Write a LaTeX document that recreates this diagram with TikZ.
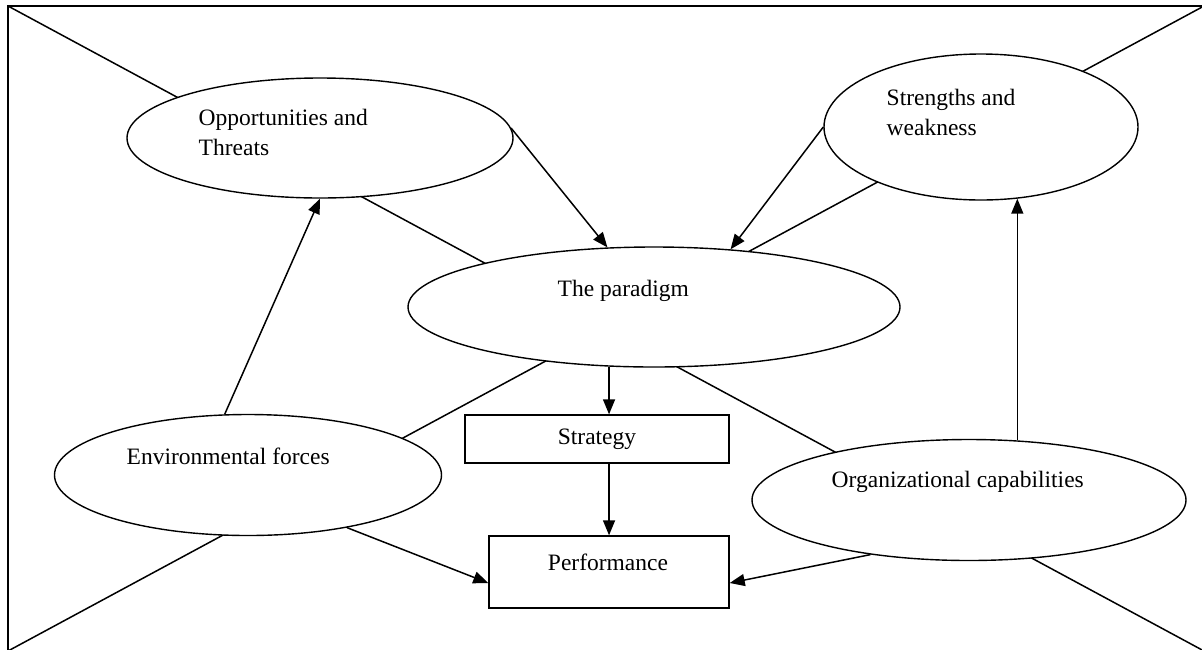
\documentclass[tikz,border=0pt]{standalone}
\usepackage{fontspec}
\setmainfont{Liberation Serif}
\usetikzlibrary{shapes.geometric,arrows.meta,calc}
\begin{document}
\begin{tikzpicture}[x=1pt,y=-1pt,
  line width=1.4pt,
  ell/.style={ellipse, draw, fill=white, inner sep=0pt},
  box/.style={rectangle, draw, fill=white, inner sep=0pt, font=\fontsize{23.5}{30}\selectfont},
  lbl/.style={inner sep=0pt, font=\fontsize{23.5}{30}\selectfont},
  arr/.style={-{Triangle[length=15pt,width=12pt]}, line width=1.5pt},
  diag/.style={line width=1.5pt}]
\useasboundingbox (0,0) rectangle (1202,649);
\clip (0,0) rectangle (1202,649);
\coordinate (tl) at (8,6);
\coordinate (tr) at (1204,6);
\coordinate (bl) at (8,651);
\coordinate (br) at (1204,651);
\draw[line width=2.2pt] (tl) rectangle (br);
\draw[diag] (tl) -- (br);
\draw[diag] (bl) -- (tr);
% ellipses
\node[ell, minimum width=386, minimum height=120] (opp) at (320,138) {};
\node[ell, minimum width=314, minimum height=146] (str) at (981,127) {};
\node[ell, minimum width=492, minimum height=120] (par) at (654,307) {};
\node[ell, minimum width=387, minimum height=121] (env) at (248,475) {};
\node[ell, minimum width=434, minimum height=121] (org) at (969,500) {};
% boxes
\node[box, minimum width=264, minimum height=48] (strat) at (597,439) {Strategy};
\node[box, minimum width=240, minimum height=72] (perf) at (609,572) {};
% labels
\node[lbl, anchor=base west, align=left] (oppT) at (198,155) {Opportunities and\\Threats};
\node[lbl, anchor=base west, align=left] (strT) at (886,135) {Strengths and\\weakness};
\node[lbl, anchor=base west] (parT) at (557,296) {The paradigm};
\node[lbl, anchor=base west] (envT) at (126,464) {Environmental forces};
\node[lbl, anchor=base west] (orgT) at (831,487) {Organizational capabilities};
\node[lbl, anchor=base] (perfT) at (608,570) {Performance};
% arrows
\draw[arr] (opp.3) -- (par.128);
\draw[arr] (str.west) -- (par.37);
\draw[arr] (env.111) -- (opp.south);
\draw[arr] (org.51) -- (org.51 |- str.297);
\draw[arr] (par.233) -- (par.233 |- strat.north);
\draw[arr] (par.233 |- strat.south) -- (par.233 |- perf.north);
\draw[arr] (env.332) -- ($(perf.south west)!0.35!(perf.north west)$);
\draw[arr] (org.209) -- ($(perf.south east)!0.35!(perf.north east)$);
\end{tikzpicture}
\end{document}
